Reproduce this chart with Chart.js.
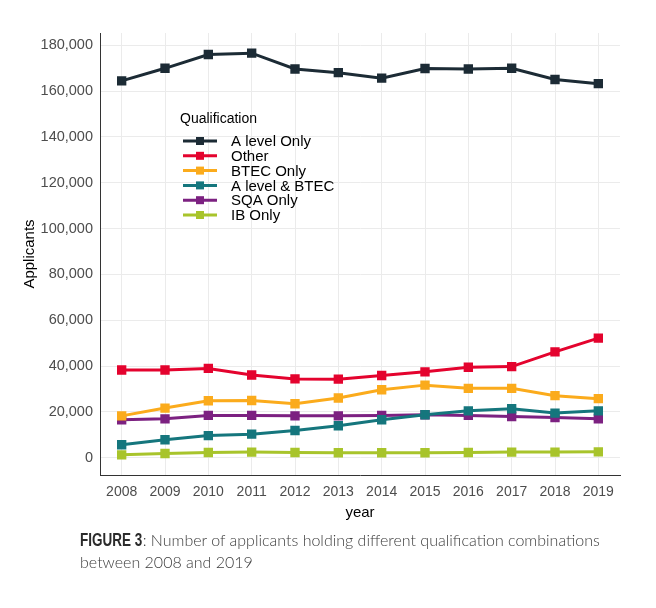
<!DOCTYPE html>
<html>
<head>
<meta charset="utf-8">
<script src="https://cdn.jsdelivr.net/npm/chart.js@4"></script>
<style>
    body { margin: 0; background: #fff; }
    #wrap { position: relative; width: 656px; height: 608px; }
    #chartBox { position: absolute; left: 0; top: 0; width: 656px; height: 530px; }
    #caption {
        position: absolute; left: 80px; top: 529px; width: 570px;
        font-family: 'Lato', sans-serif; font-size: 16px; line-height: 22px;
        color: #3c3c3c; font-weight: 300;
    }
    #caption b {
        display: inline-block;
        font-family: 'Liberation Sans', Arial, sans-serif;
        font-weight: 700; font-size: 19px; color: #2b2b2b;
        transform: scaleX(0.71); transform-origin: left center;
        margin-right: -25px;
    }
</style>
</head>
<body>
<div id="wrap">
    <div id="chartBox"><canvas id="qualChart"></canvas></div>
    <div id="caption"><b>FIGURE 3</b>: Number of applicants holding different qualification combinations between 2008 and 2019</div>
</div>
<script>
const years = ['2008', '2009', '2010', '2011', '2012', '2013', '2014', '2015', '2016', '2017', '2018', '2019'];
const yTicks = [0, 20000, 40000, 60000, 80000, 100000, 120000, 140000, 160000, 180000];

const aLevelOnly = [164400, 169900, 175900, 176500, 169600, 168000, 165600, 169800, 169600, 169900, 165000, 163200];
const other = [38300, 38300, 39000, 36100, 34400, 34300, 35900, 37500, 39500, 39800, 46200, 52200];
const btecOnly = [18300, 21700, 24900, 25000, 23600, 26100, 29700, 31700, 30300, 30300, 27100, 25800];
const aLevelBtec = [5700, 7900, 9700, 10300, 11900, 14000, 16600, 18800, 20500, 21400, 19500, 20500];
const sqaOnly = [16600, 17000, 18500, 18500, 18300, 18300, 18500, 18800, 18500, 18000, 17600, 17000];
const ibOnly = [1300, 1900, 2300, 2500, 2300, 2200, 2200, 2200, 2300, 2500, 2500, 2600];

const fontFam = 'Liberation Sans, Arial, sans-serif';
Chart.defaults.font.family = fontFam;

const makeSet = (label, data, colour) => ({
    label: label,
    data: data,
    borderColor: colour,
    backgroundColor: colour,
    borderWidth: 3,
    pointStyle: 'rect',
    pointRadius: 4.5,
    pointHoverRadius: 4.5,
    fill: false,
    tension: 0,
});

// legend sits inside the plot, drawn by hand
const insideLegend = {
    id: 'insideLegend',
    afterDraw(chart) {
        const ctx = chart.ctx;
        ctx.save();
        ctx.fillStyle = '#000';
        ctx.font = '14px ' + fontFam;
        ctx.textBaseline = 'middle';
        ctx.fillText('Qualification', 180, 119);
        chart.data.datasets.forEach((ds, i) => {
            let y = 141 + i * 14.8;
            ctx.strokeStyle = ds.borderColor;
            ctx.lineWidth = 3;
            ctx.beginPath();
            ctx.moveTo(183, y);
            ctx.lineTo(217, y);
            ctx.stroke();
            ctx.fillStyle = ds.borderColor;
            ctx.fillRect(196, y - 4, 8, 8);
            ctx.fillStyle = '#000';
            ctx.font = '15px ' + fontFam;
            ctx.fillText(ds.label, 231, y + 1);
        });
        ctx.restore();
    },
};

const ctx = document.getElementById('qualChart').getContext('2d');
let qualChart = new Chart(ctx, {
    type: 'line',
    data: {
        labels: years,
        datasets: [
            makeSet('A level Only', aLevelOnly, '#1c2b35'),
            makeSet('Other', other, '#e4032e'),
            makeSet('BTEC Only', btecOnly, '#fbab1c'),
            makeSet('A level & BTEC', aLevelBtec, '#15767d'),
            makeSet('SQA Only', sqaOnly, '#7c2181'),
            makeSet('IB Only', ibOnly, '#a8c42b'),
        ],
    },
    options: {
        responsive: true,
        maintainAspectRatio: false,
        animation: false,
        layout: { padding: { left: 0, top: 33, right: 36, bottom: 0 } },
        plugins: {
            legend: { display: false },
            tooltip: { enabled: false },
        },
        scales: {
            x: {
                offset: true,
                grid: { offset: false, color: '#ebebeb', lineWidth: 1, drawTicks: false },
                border: { color: '#333', width: 1 },
                ticks: {
                    color: '#4d4d4d', padding: 9, maxRotation: 0,
                    font: { family: fontFam, size: 14 },
                },
                title: {
                    display: true, text: 'year', color: '#000',
                    font: { family: fontFam, size: 15 },
                    padding: { top: 2, bottom: 8 },
                },
                afterFit: (scale) => { scale.height = 55; },
            },
            y: {
                min: -7500,
                max: 185300,
                afterBuildTicks: (scale) => { scale.ticks = yTicks.map((v) => ({ value: v })); },
                grid: { color: '#ebebeb', lineWidth: 1, drawTicks: false },
                border: { color: '#333', width: 1 },
                ticks: {
                    color: '#4d4d4d', padding: 7,
                    font: { family: fontFam, size: 14.5 },
                    callback: (v) => v.toLocaleString('en-GB'),
                },
                title: {
                    display: true, text: 'Applicants', color: '#000',
                    font: { family: fontFam, size: 15 },
                    padding: { top: 21, bottom: 0 },
                },
                afterFit: (scale) => { scale.width = 100; },
            },
        },
    },
    plugins: [insideLegend],
});
</script>
</body>
</html>
